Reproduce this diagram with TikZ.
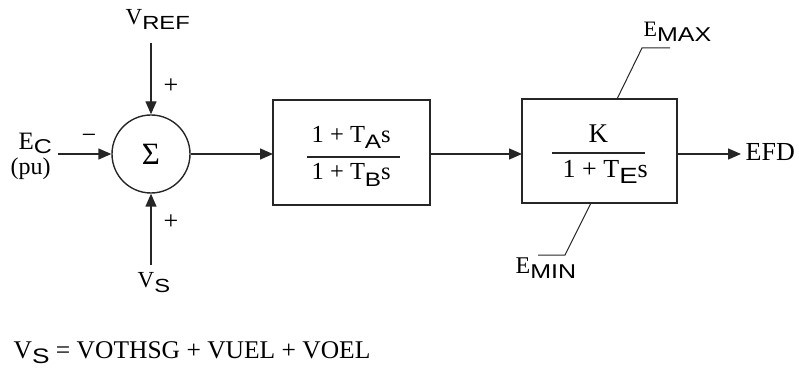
\documentclass[tikz,border=0pt]{standalone}
\usepackage{fontspec}
\setmainfont{Liberation Serif}
\newfontfamily\sansf{Liberation Sans}
\usetikzlibrary{arrows.meta}
\newcommand{\lowsans}[3][6pt]{\raisebox{-#1}{\scalebox{1.25}[1]{\fontsize{#2}{#2}\sansf #3}}}
\newcommand{\fsz}[1]{\fontsize{#1}{#1}\selectfont}
\begin{document}
\begin{tikzpicture}[x=1pt,y=-1pt,
  font=\fsz{23},
  line width=1.4pt, draw=black!85,
  arr/.style={-{Triangle[length=13pt,width=11pt]}},
  lbl/.style={inner sep=0pt, anchor=base west},
  sgn/.style={inner sep=0pt, font=\fsz{26}},
  blk/.style={draw, line width=1.6pt}]
\useasboundingbox (0,0) rectangle (799,371);

% summing junction
\node[draw, circle, minimum size=78pt, inner sep=0pt, font=\fsz{31}] (sum) at (151,154) {Σ};

% inputs
\node[lbl] (vref) at (125,25) {V\lowsans[5pt]{19}{REF}};
\coordinate (vrefs) at (151,43);
\draw[arr] (vrefs) -- (sum.north);
\node[sgn] (p1) at (171,86) {+};

\node[lbl, font=\fsz{25}] (ec) at (18,150) {E\lowsans[4pt]{20}{C}};
\node[lbl, font=\fsz{24}] (pu) at (10,175) {(pu)};
\coordinate (ecs) at (58,154);
\draw[arr] (ecs) -- (sum.west);
\node[sgn] (m1) at (89,139) {\textminus};

\node[lbl] (vs) at (137,287) {V\lowsans[5pt]{19}{S}};
\coordinate (vss) at (151,265);
\draw[arr] (vss) -- (sum.south);
\node[sgn] (p2) at (171,222) {+};

% block 1
\draw[blk] (273,100) rectangle (430,205);
\node[lbl, font=\fsz{24.5}] (n1) at (311,143) {1 + T\lowsans{19.5}{A}s};
\draw (307,157) -- (400,157);
\node[lbl, font=\fsz{24.5}] (d1) at (311,180) {1 + T\lowsans{19.5}{B}s};
\draw[arr] (sum.east) -- (273,154);

% block 2
\draw[blk] (522,99) rectangle (677,203);
\node[lbl, font=\fsz{27}] (n2) at (588,143) {K};
\draw (552,153) -- (645,153);
\node[lbl, font=\fsz{26}] (d2) at (562,178) {1 + T\lowsans{22}{E}s};
\draw[arr] (430,154) -- (522,154);

% limits
\draw[line width=1pt] (617,99) -- (642,48) -- (670,48);
\node[lbl, font=\fsz{22}] (emax) at (643,37) {E\lowsans[5pt]{20}{MAX}};
\draw[line width=1pt] (591,203) -- (565,255) -- (538,255);
\node[lbl, font=\fsz{24}] (emin) at (515,273) {E\lowsans[5pt]{20}{MIN}};

% output
\coordinate (efds) at (677,154);
\node[lbl, font=\fsz{26}] (efd) at (745,161) {EFD};
\draw[arr] (efds) -- (741,154);

% note
\node[lbl, font=\fsz{25.5}] (note) at (13,358) {V\lowsans[5pt]{21}{S} = VOTHSG + VUEL + VOEL};
\end{tikzpicture}
\end{document}
